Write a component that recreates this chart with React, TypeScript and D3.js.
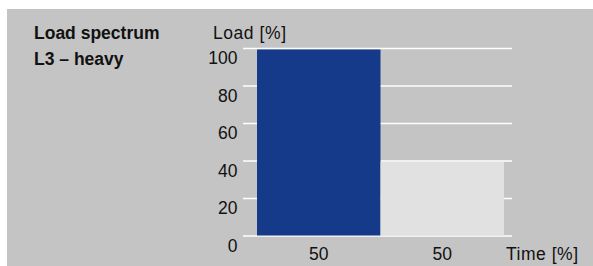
import React from "react";
import * as d3 from "d3";

const titleLines = ["Load spectrum", "L3 – heavy"];
const yAxisTitle = "Load [%]";
const xAxisTitle = "Time [%]";
const timeShares = [50, 50];
const loadValues = [100, 40];
const yTicks = [0, 20, 40, 60, 80, 100];
const barColors = ["#163a8a", "#e1e1e1"];

export default function App() {
  const W = 593;
  const H = 266;
  const y = d3.scaleLinear().domain([0, 100]).range([236, 48.5]);
  const x = d3.scaleLinear().domain([0, 100]).range([257, 504]);
  const cum = d3.cumsum(timeShares);
  const starts = cum.map((c, i) => c - timeShares[i]);
  const font = "'Liberation Sans', Arial, sans-serif";
  const fs = 17.5;
  return (
    <svg
      width={W}
      height={H}
      style={{ position: "absolute", left: 0, top: 0, display: "block" }}
    >
      <rect x={0} y={0} width={W} height={H} fill="#ffffff" />
      <rect x={7} y={9} width={W - 7} height={H - 9} fill="#c4c4c4" />
      {titleLines.map((t, i) => (
        <text
          key={i}
          x={34}
          y={39 + i * 25.5}
          fontFamily={font}
          fontWeight="bold"
          fontSize={fs}
          fill="#111"
        >
          {t}
        </text>
      ))}
      <text x={213} y={39} fontFamily={font} fontSize={fs} fill="#111" textLength={73}>
        {yAxisTitle}
      </text>
      {yTicks.map((t) => (
        <g key={t}>
          <line
            x1={243}
            x2={512}
            y1={y(t)}
            y2={y(t)}
            stroke="#ffffff"
            strokeWidth={1.5}
          />
          <text
            x={237.5}
            y={y(t) + 15.8}
            textAnchor="end"
            fontFamily={font}
            fontSize={fs}
            fill="#111"
          >
            {t}
          </text>
        </g>
      ))}
      {loadValues.map((v, i) => (
        <rect
          key={i}
          x={x(starts[i])}
          y={y(v) + 1}
          width={x(cum[i]) - x(starts[i])}
          height={y(0) - y(v) - 1.5}
          fill={barColors[i]}
        />
      ))}
      {timeShares.map((t, i) => (
        <text
          key={i}
          x={(x(starts[i]) + x(cum[i])) / 2}
          y={260}
          textAnchor="middle"
          fontFamily={font}
          fontSize={fs}
          fill="#111"
        >
          {t}
        </text>
      ))}
      <text x={506} y={260} fontFamily={font} fontSize={fs} fill="#111" textLength={72}>
        {xAxisTitle}
      </text>
    </svg>
  );
}
